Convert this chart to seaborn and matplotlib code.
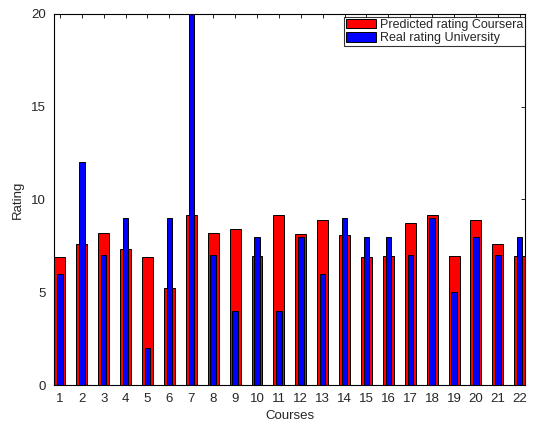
import numpy as np
import pandas as pd
import matplotlib
matplotlib.use('Agg')
import matplotlib.pyplot as plt
import seaborn as sns

sns.set_style('white')
plt.rcParams['font.family'] = ['Liberation Sans', 'DejaVu Sans']
plt.rcParams['font.size'] = 9.5

# data
courses = list(range(1, 23))
predicted = [6.9, 7.6, 8.2, 7.35, 6.9, 5.25, 9.15, 8.2, 8.4, 6.95, 9.15,
             8.15, 8.9, 8.1, 6.9, 6.95, 8.75, 9.15, 6.95, 8.9, 7.6, 6.95]
real = [6, 12, 7, 9, 2, 9, 20, 7, 4, 8, 4,
        8, 6, 9, 8, 8, 7, 9, 5, 8, 7, 8]

df = pd.DataFrame({'course': courses, 'predicted': predicted, 'real': real})

fig = plt.figure(figsize=(5.39, 4.23), dpi=100)
ax = fig.add_axes([54 / 539, 1 - 385 / 423, 471 / 539, 371 / 423])

sns.barplot(data=df, x='course', y='predicted', native_scale=True, width=0.5,
            color='#ff0000', saturation=1, edgecolor='black', linewidth=0.7,
            label='Predicted rating Coursera', ax=ax)
sns.barplot(data=df, x='course', y='real', native_scale=True, width=0.25,
            color='#0000ff', saturation=1, edgecolor='black', linewidth=0.7,
            label='Real rating University', ax=ax)

ax.set_xlim(0.73, 22.24)
ax.set_ylim(0, 20)
ax.set_xticks(courses)
ax.set_yticks([0, 5, 10, 15, 20])
ax.set_xlabel('Courses', fontsize=9.5, labelpad=3)
ax.set_ylabel('Rating', fontsize=9.5, labelpad=5)
ax.tick_params(direction='in', length=3, width=0.6, top=True, right=True,
               labelsize=9.5, pad=6, color='black')
for s in ax.spines.values():
    s.set_visible(True)
    s.set_color('black')
    s.set_linewidth(0.8)

leg = ax.legend(loc='upper right', bbox_to_anchor=(1.0, 0.992), fontsize=9,
                frameon=True, fancybox=False, edgecolor='black',
                handlelength=2.4, handleheight=0.8, handletextpad=0.3,
                borderpad=0.15, labelspacing=0.1, borderaxespad=0)
leg.get_frame().set_linewidth(0.8)

fig.savefig('out.png', dpi=100)
